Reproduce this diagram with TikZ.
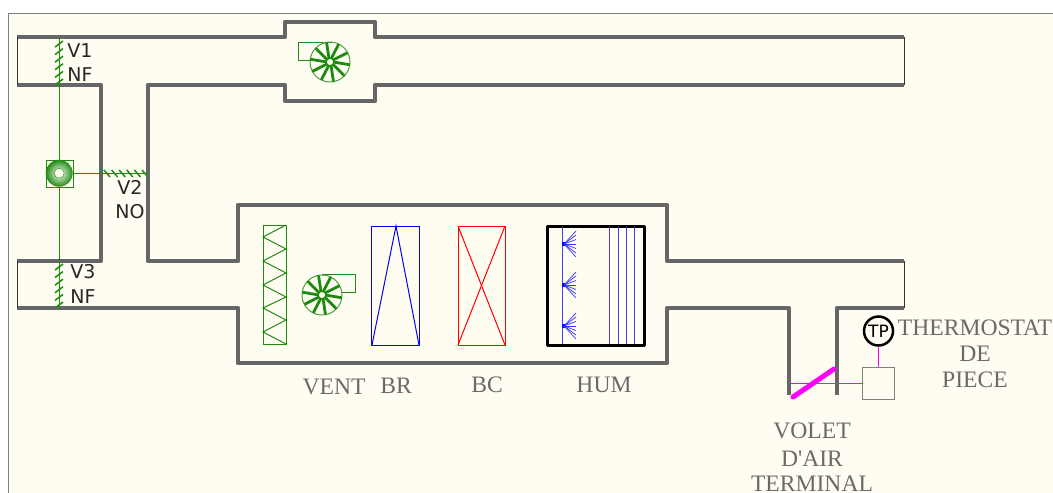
\documentclass[tikz,border=0pt]{standalone}
\usepackage{fontspec}
\setmainfont{Liberation Serif}
\newfontfamily\tagfont{DejaVu Sans}
\usetikzlibrary{positioning}
\definecolor{paper}{HTML}{FFFDF2}
\definecolor{wall}{HTML}{666666}
\definecolor{leaf}{HTML}{1F8A10}
\definecolor{captiongray}{HTML}{6A6A6A}
\definecolor{pinkline}{HTML}{FF00FF}
\definecolor{coilblue}{HTML}{0000FF}
\definecolor{coilred}{HTML}{FF0000}
\begin{document}
\begin{tikzpicture}[
        x=1pt, y=-1pt,
        duct/.style = {draw=wall, line width=4.4pt, line join=round},
        duct end/.style = {draw=black!80, line width=0.8pt},
        caption/.style = {
            text=captiongray,
            font=\fontsize{23.6}{25}\selectfont,
            inner sep=0pt,
            outer sep=0pt
        },
        valve tag/.style = {
            text=black!85,
            font=\tagfont\fontsize{19}{21}\selectfont,
            inner sep=0pt
        },
        coil/.style = {line width=1pt},
        fan/.pic = {
            \draw[leaf!80, line width=1pt] (0,0) circle (20);
            \foreach \a in {0,36,...,324}
                \draw[leaf, line width=2.8pt] (\a:3) -- ({\a+8}:20);
        }
        ]
%
        \useasboundingbox (0,0) rectangle (1053,493);
        \fill[white] (0,0) rectangle (1053,493);
        \fill[paper] (8,13) rectangle (1053,493);
        \draw[gray, line width=1pt] (8,493) -- (8,13) -- (1053,13);
%
% ducts
        \draw[duct] (17,37) -- (285,37) -- (285,22) -- (375,22) -- (375,37) -- (904,37);
        \draw[duct] (904,85) -- (375,85) -- (375,101) -- (285,101) -- (285,85) -- (148,85)
                        -- (148,261) -- (238,261) -- (238,205) -- (667,205) -- (667,261) -- (904,261);
        \draw[duct] (17,85) -- (101,85) -- (101,261) -- (17,261);
        \draw[duct] (17,308) -- (238,308) -- (238,363) -- (667,363) -- (667,308) -- (789,308) -- (789,395);
        \draw[duct] (837,395) -- (837,308) -- (904,308);
        \draw[duct end] (17,37) -- (17,85);
        \draw[duct end] (17,261) -- (17,308);
        \draw[duct end] (904,37) -- (904,85);
        \draw[duct end] (904,261) -- (904,308);
%
% valves and their actuator
        \coordinate (v1top) at (59.2,37);
        \coordinate (v3bot) at (59.2,308);
        \coordinate (v2end) at (148,173.2);
        \node[draw=leaf, fill=paper, minimum size=27pt, inner sep=0pt] (act) at (59.2,173.2) {};
        \draw[leaf, line width=1.3pt] (act) -- (v1top);
        \draw[leaf, line width=1.3pt] (act) -- (v3bot);
        \draw[leaf, line width=1.3pt] (act) -- (v2end);
        \node[circle, inner color=white, outer color=leaf, minimum size=27pt, inner sep=0pt] (actring) at (act) {};
        \node[circle, draw=leaf, fill=paper, minimum size=10pt, inner sep=0pt] (acthub) at (act) {};
%
        \foreach \y in {44,51.6,...,84}
            \draw[leaf, line width=1.5pt] (55,\y+3) -- (63,\y-3);
        \foreach \y in {267,274.6,...,307}
            \draw[leaf, line width=1.5pt] (55,\y+3) -- (63,\y-3);
        \foreach \x in {107,114.6,...,147}
            \draw[leaf, line width=1.5pt] (\x-3,170) -- (\x+3,177);
%
        \node[valve tag] (v1) at (80,51) {V1};
        \node[valve tag] (v1state) at (80,75) {NF};
        \node[valve tag] (v2) at (130,187) {V2};
        \node[valve tag] (v2state) at (130,212) {NO};
        \node[valve tag] (v3) at (83,272) {V3};
        \node[valve tag] (v3state) at (83,297) {NF};
%
% return fan
        \draw[leaf, line width=1pt] (311,60.5) -- (298.5,60.5) -- (298.5,42.5) -- (333,42.5);
        \pic at (330,62) {fan};
%
% filter
        \draw[leaf, line width=1pt] (263.5,225.5) rectangle (286.5,344.5);
        \draw[leaf, line width=1pt] (286,225) -- (263,237) -- (286,249) -- (263,261) -- (286,273) -- (263,285)
                        -- (286,297) -- (263,308) -- (286,320) -- (263,332) -- (286,344);
%
% supply fan
        \draw[leaf, line width=1pt] (322,274.5) -- (355.5,274.5) -- (355.5,292.5) -- (341,292.5);
        \pic at (322,295) {fan};
%
% coils
        \draw[coilblue, coil] (371.5,226.5) rectangle (419.5,345.5);
        \draw[coilblue, coil] (372,345) -- (396,226) -- (419,345);
        \draw[coilred, coil] (458.5,226.5) rectangle (505.5,345.5);
        \draw[coilred, coil] (458,226) -- (505,345);
        \draw[coilred, coil] (505,226) -- (458,345);
%
% humidifier
        \draw[black, line width=3pt, line join=round] (547,226) rectangle (644,345);
        \foreach \x in {562.5,609.2,618.5,626.5,634.5}
            \draw[coilblue!75, line width=1.3pt] (\x,227) -- (\x,344);
        \foreach \y in {244,285,326} {
            \fill[coilblue] (564,\y) circle (2.2);
            \foreach \d in {-13,-9,-4.5,0,4.5,9,13}
                \draw[coilblue!80, line width=0.7pt] (564,\y) -- (576,\y+\d);
        }
%
% thermostat and terminal damper
        \node[circle, draw=black, line width=2.5pt, fill=paper, minimum size=29pt, inner sep=0pt,
              font=\tagfont\fontsize{17}{19}\selectfont] (tp) at (878.5,331) {TP};
        \node[draw=gray, line width=0.9pt, minimum size=32pt, inner sep=0pt] (ctrl) at (878.5,383.2) {};
        \coordinate (voletpivot) at (790,383.2);
        \coordinate (voleta) at (793,397);
        \coordinate (voletb) at (834,369);
        \draw[pinkline, line width=1.3pt] (tp) -- (ctrl);
        \draw[pinkline, line width=1.3pt] (ctrl) -- (voletpivot);
        \draw[pinkline, line width=5pt, line cap=round] (voleta) -- (voletb);
%
% captions
        \node[caption] (vent) at (334,387) {VENT};
        \node[caption] (br) at (396,386) {BR};
        \node[caption] (bc) at (487,385) {BC};
        \node[caption] (hum) at (604,385) {HUM};
%
        \node[caption] (thermo) at (975,328) {THERMOSTAT};
        \node[caption] (de) at (975,354) {DE};
        \node[caption] (piece) at (975,380) {PIECE};
%
        \node[caption] (volet) at (812,431) {VOLET};
        \node[caption] (dair) at (812,459) {D\textquotesingle AIR};
        \node[caption] (terminal) at (812,484) {TERMINAL};
\end{tikzpicture}
\end{document}
